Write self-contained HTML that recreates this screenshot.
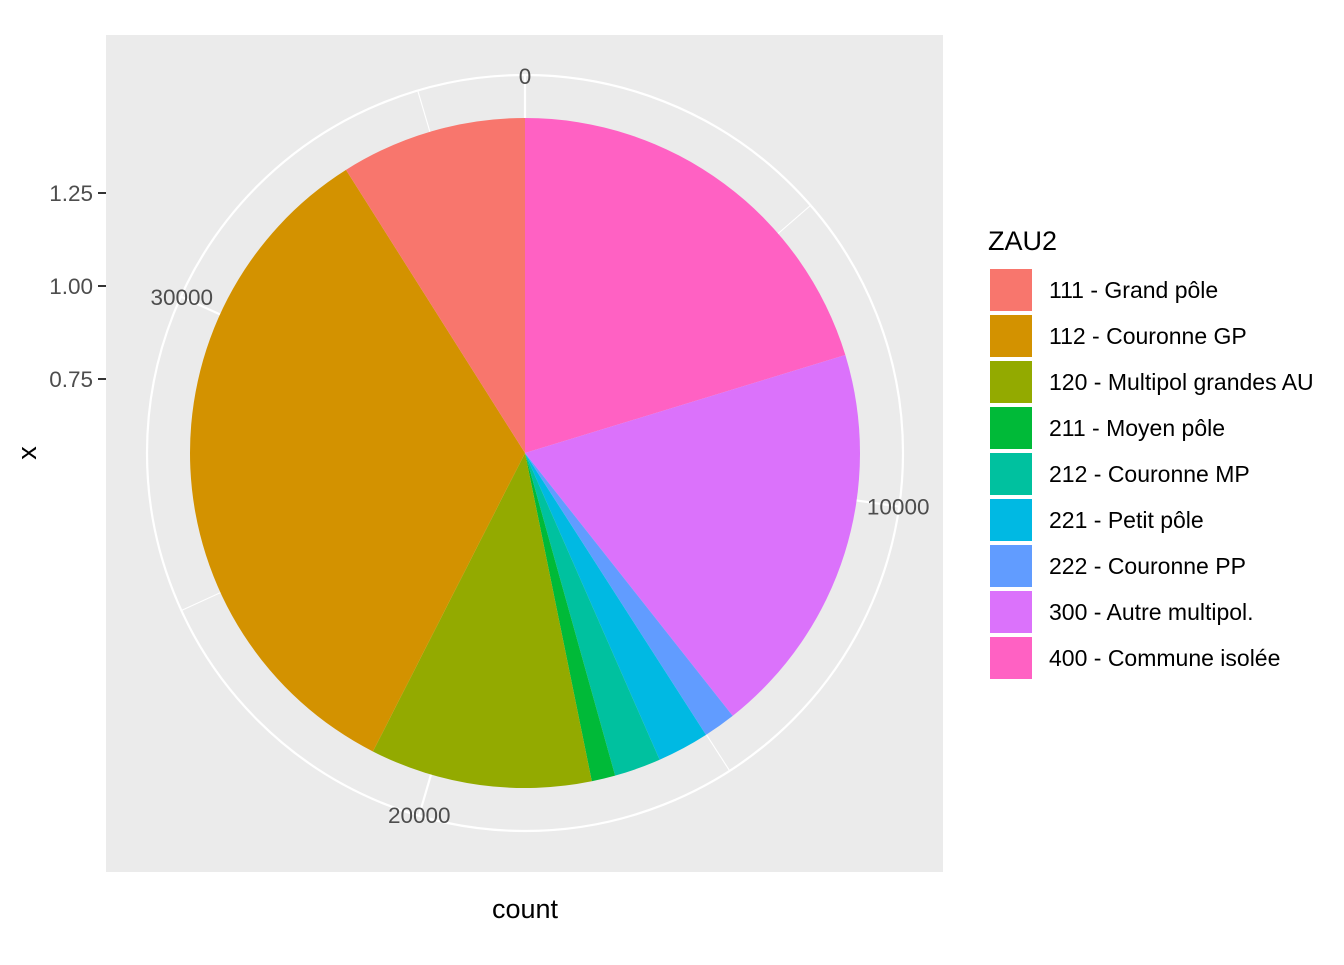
<!DOCTYPE html>
<html><head><meta charset="utf-8"><style>
body{margin:0;background:#fff;}
svg text{font-family:"Liberation Sans",sans-serif;}
</style></head><body>
<svg id="chart" width="1344" height="960" xmlns="http://www.w3.org/2000/svg">
<rect x="106" y="35" width="837" height="837" fill="#ebebeb"/>
<g id="grid"></g>
<g id="slices"></g>
<g id="thetaLabels"></g>
<g>
<text x="93" y="201" text-anchor="end" font-size="22.5" fill="#4d4d4d">1.25</text>
<text x="93" y="294" text-anchor="end" font-size="22.5" fill="#4d4d4d">1.00</text>
<text x="93" y="387" text-anchor="end" font-size="22.5" fill="#4d4d4d">0.75</text>
<line x1="98" y1="193" x2="106" y2="193" stroke="#333" stroke-width="2"/>
<line x1="98" y1="286" x2="106" y2="286" stroke="#333" stroke-width="2"/>
<line x1="98" y1="379" x2="106" y2="379" stroke="#333" stroke-width="2"/>
</g>
<text x="525" y="918" text-anchor="middle" font-size="27" fill="#000">count</text>
<text transform="translate(36,453) rotate(-90)" text-anchor="middle" font-size="27" fill="#000">x</text>
<g id="legend">
<text x="988" y="250" font-size="27" fill="#000">ZAU2</text>
</g>
</svg>
<script>
const categories=["111 - Grand pôle","112 - Couronne GP","120 - Multipol grandes AU","211 - Moyen pôle","212 - Couronne MP","221 - Petit pôle","222 - Couronne PP","300 - Autre multipol.","400 - Commune isolée"];
const counts=[3291,12298,3923,418,824,918,571,7000,7437];
const colors=["#F8766D","#D39200","#93AA00","#00BA38","#00C19F","#00B9E3","#619CFF","#DB72FB","#FF61C3"];
const thetaTicks=[0,10000,20000,30000];
const thetaMinor=[5000,15000,25000,35000];
const NS="http://www.w3.org/2000/svg";
const cx=525,cy=453,R=335,Rout=378;
const total=counts.reduce((a,b)=>a+b,0);
function ang(v){return v/total*2*Math.PI;}
function pt(v,r){const a=ang(v);return [cx+r*Math.sin(a),cy-r*Math.cos(a)];}
function mk(t,attrs,parent){const e=document.createElementNS(NS,t);for(const k in attrs)e.setAttribute(k,attrs[k]);parent.appendChild(e);return e;}
const grid=document.getElementById('grid');
const gc=mk('circle',{cx:cx,cy:cy,r:Rout,fill:'none',stroke:'#fff','stroke-width':2.2},grid);


thetaTicks.concat(thetaMinor).forEach(v=>{const p=pt(v,Rout);const l=mk('line',{x1:cx,y1:cy,x2:p[0],y2:p[1],stroke:'#fff','stroke-width':thetaTicks.includes(v)?2.2:1.1},grid);

});
const sl=document.getElementById('slices');
let start=0;
for(let i=counts.length-1;i>=0;i--){
  const end=start+counts[i];
  const p0=pt(start,R),p1=pt(end,R);
  const large=(counts[i]/total)>0.5?1:0;
  const path=mk('path',{d:`M${cx},${cy}L${p0[0]},${p0[1]}A${R},${R} 0 ${large} 1 ${p1[0]},${p1[1]}Z`,fill:colors[i]},sl);
  
  
  start=end;
}
const tl=document.getElementById('thetaLabels');
thetaTicks.forEach(v=>{const p=pt(v,377);const t=mk('text',{x:p[0],y:p[1]+8,'text-anchor':'middle','font-size':22.5,fill:'#4d4d4d'},tl);t.textContent=v;

});
const lg=document.getElementById('legend');
categories.forEach((c,i)=>{const y=269+i*46;
const r=mk('rect',{x:990,y:y,width:42,height:42,fill:colors[i]},lg);


const t=mk('text',{x:1049,y:y+29,'font-size':23,fill:'#000'},lg);t.textContent=c;

});
</script>
</body></html>
